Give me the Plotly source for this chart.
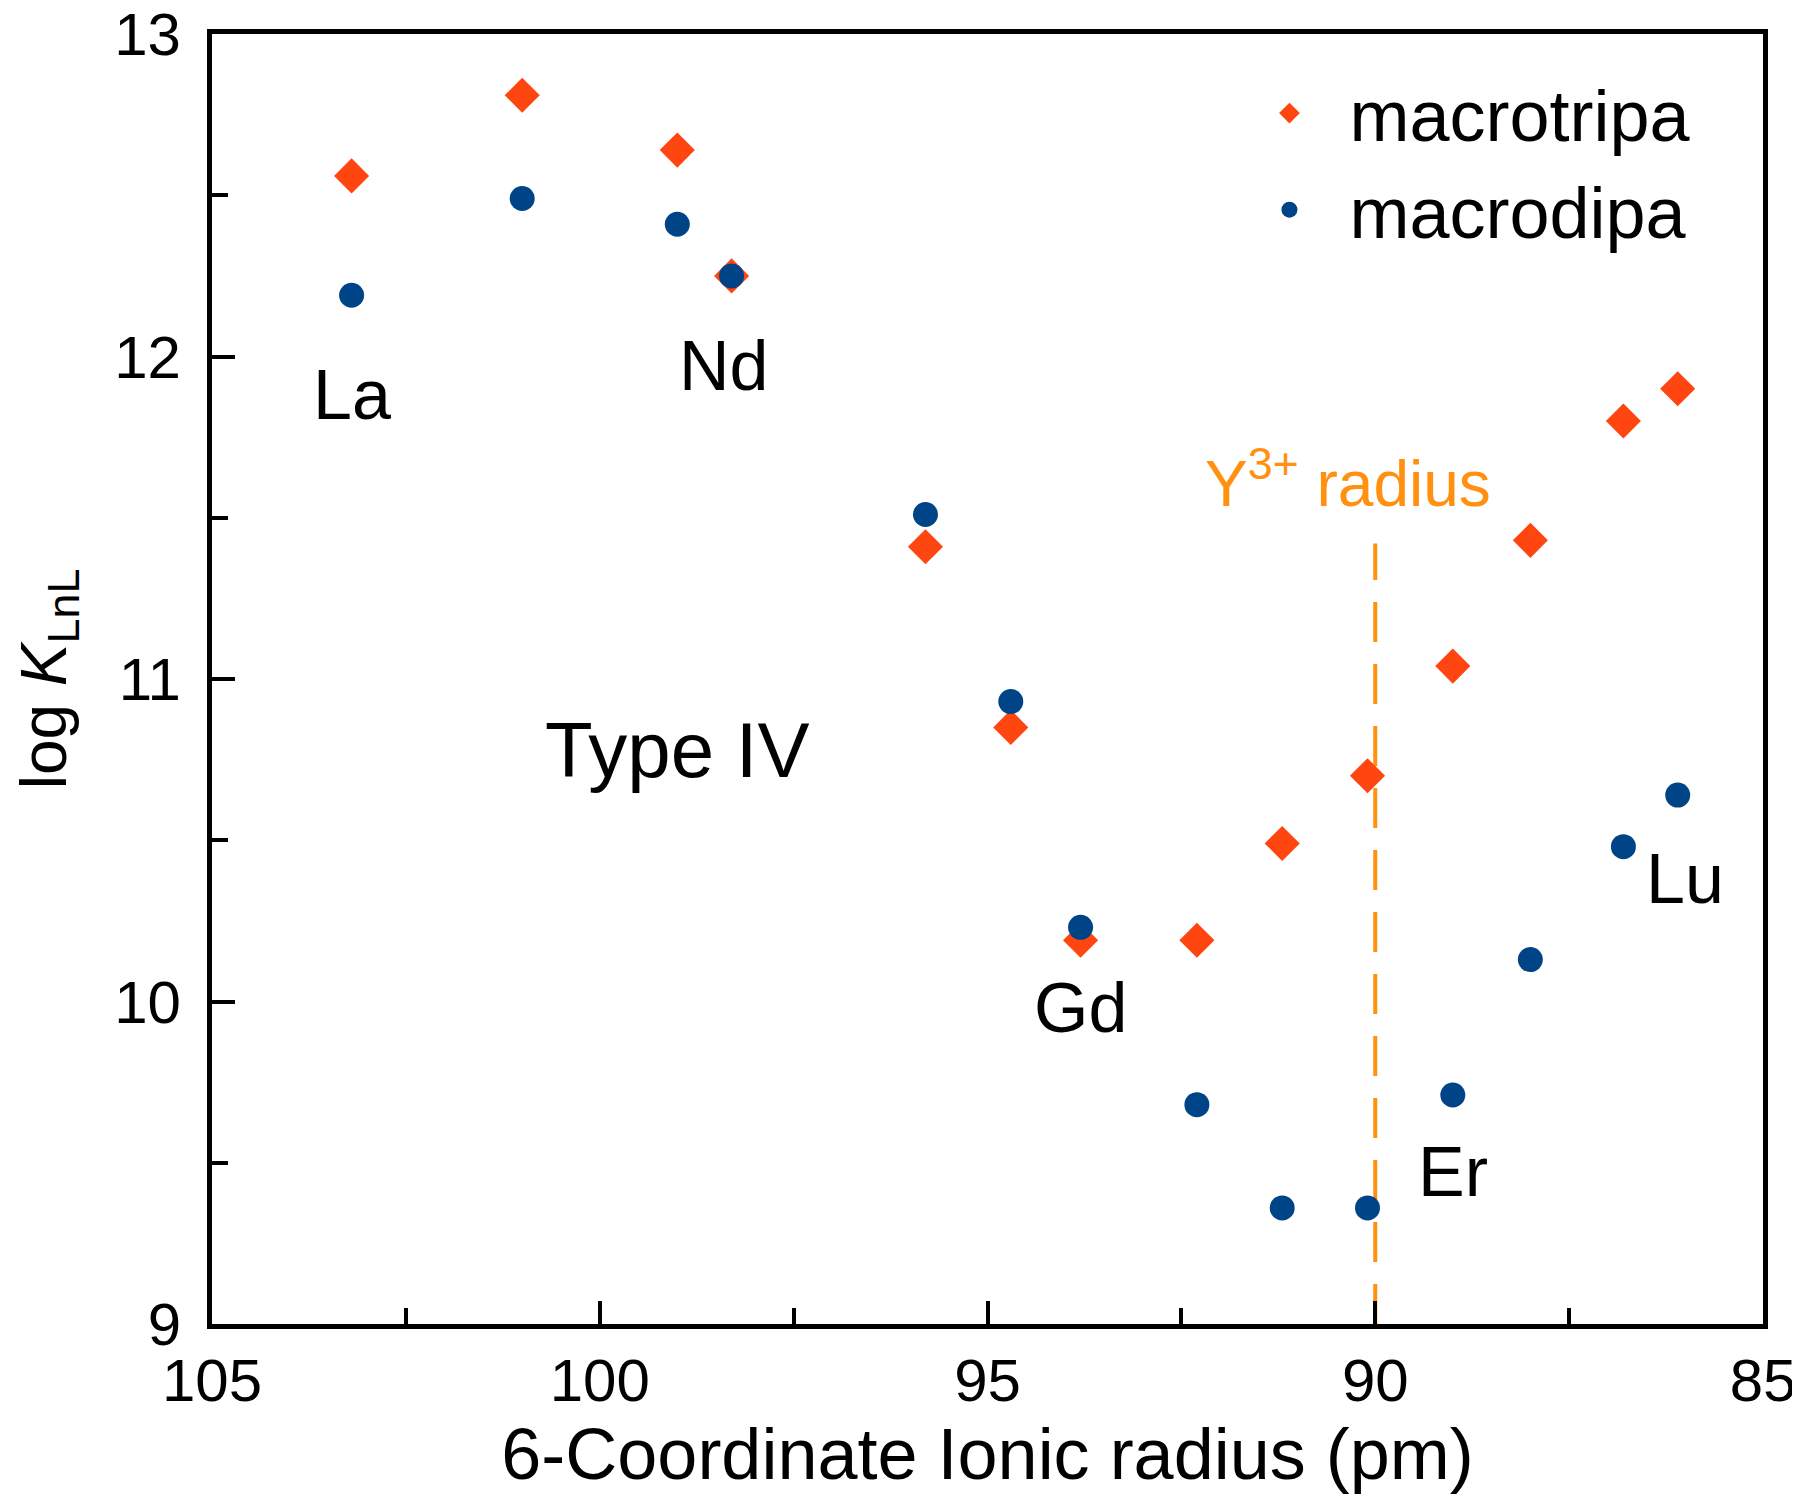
import plotly.graph_objects as go

# Data
elements = ["La", "Ce", "Pr", "Nd", "Sm", "Eu", "Gd", "Tb", "Dy", "Ho", "Er", "Tm", "Yb", "Lu"]
ionic_radius = [103.2, 101.0, 99.0, 98.3, 95.8, 94.7, 93.8, 92.3, 91.2, 90.1, 89.0, 88.0, 86.8, 86.1]
macrotripa = [12.56, 12.81, 12.64, 12.25, 11.41, 10.85, 10.19, 10.19, 10.49, 10.70, 11.04, 11.43, 11.80, 11.90]
macrodipa = [12.19, 12.49, 12.41, 12.25, 11.51, 10.93, 10.23, 9.68, 9.36, 9.36, 9.71, 10.13, 10.48, 10.64]

y3_radius = 90.0
y3_line_top = 11.42

label_text = ["La", "Nd", "Gd", "Er", "Lu", "Type IV"]
label_x = [103.2, 98.4, 93.8, 89.0, 86.0, 99.0]
label_y = [11.88, 11.97, 9.98, 9.47, 10.38, 10.78]
label_size = [70, 70, 70, 70, 70, 78]

FONT = "Liberation Sans, Arial, sans-serif"
ORANGE = "#FF9010"

fig = go.Figure()

fig.add_trace(go.Scatter(
    x=ionic_radius, y=macrotripa, mode="markers", name="macrotripa",
    marker=dict(symbol="diamond", size=27, color="#FF4510", line=dict(width=0)),
))
fig.add_trace(go.Scatter(
    x=ionic_radius, y=macrodipa, mode="markers", name="macrodipa",
    marker=dict(symbol="circle", size=25, color="#004488", line=dict(width=0)),
))

fig.add_shape(type="line", xref="x", yref="y",
              x0=y3_radius, x1=y3_radius, y0=9, y1=y3_line_top,
              line=dict(color=ORANGE, width=4, dash="40px,22px"), layer="below")

fig.add_annotation(x=y3_radius + 0.35, y=11.62, xref="x", yref="y",
                   text="Y<sup>3+</sup> radius", showarrow=False,
                   font=dict(family=FONT, size=64, color=ORANGE))

for t, lx, ly, s in zip(label_text, label_x, label_y, label_size):
    fig.add_annotation(x=lx, y=ly, xref="x", yref="y", text=t, showarrow=False,
                       font=dict(family=FONT, size=s, color="black"))

axis_common = dict(
    showgrid=False, zeroline=False, showline=True, linecolor="black", linewidth=5,
    mirror=True, ticks="inside", tickcolor="black", tickwidth=4, ticklen=23,
    tickfont=dict(family=FONT, size=60, color="black"),
    ticklabeloverflow="allow", automargin=False,
)

fig.update_xaxes(
    **axis_common, range=[105, 85], tickvals=[105, 100, 95, 90, 85],
    minor=dict(tickvals=[102.5, 97.5, 92.5, 87.5], ticks="inside", ticklen=16,
               tickwidth=4, tickcolor="black"),
    title=dict(text="6-Coordinate Ionic radius (pm)", font=dict(family=FONT, size=72, color="black"),
               standoff=14),
)
fig.update_yaxes(
    **axis_common, range=[9, 13], tickvals=[9, 10, 11, 12, 13],
    ticklabelstandoff=14,
    minor=dict(tickvals=[9.5, 10.5, 11.5, 12.5], ticks="inside", ticklen=16,
               tickwidth=4, tickcolor="black"),
    title=dict(text="log <i>K</i><sub>LnL</sub>", font=dict(family=FONT, size=64, color="black"),
               standoff=40),
)

fig.update_layout(
    width=1800, height=1504,
    margin=dict(l=204, r=45, t=26, b=188),
    paper_bgcolor="white", plot_bgcolor="white",
    showlegend=True,
    legend=dict(x=0.656, y=0.98, xanchor="left", yanchor="top",
                font=dict(family=FONT, size=72, color="black"),
                bgcolor="rgba(0,0,0,0)", itemwidth=110),
)

fig.write_html("out.html")
